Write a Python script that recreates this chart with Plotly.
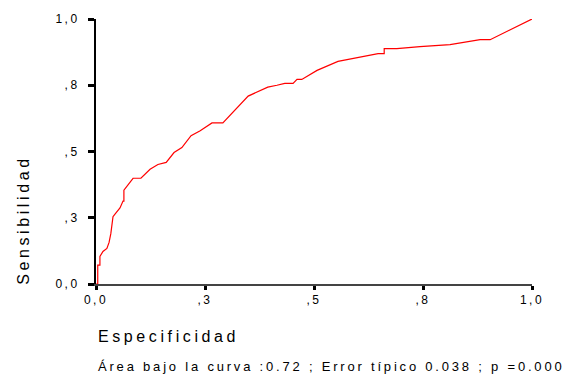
import plotly.graph_objects as go

# ROC curve points (1 - specificity on x as labelled "Especificidad", sensitivity on y)
fpr = [0.0, 0.004, 0.004, 0.009, 0.009, 0.016, 0.025, 0.030, 0.034, 0.037, 0.039, 0.044,
       0.055, 0.062, 0.064, 0.064, 0.085, 0.103, 0.124, 0.142, 0.161, 0.179, 0.197, 0.218,
       0.239, 0.266, 0.291, 0.349, 0.394, 0.415, 0.433, 0.452, 0.461, 0.472, 0.507, 0.555,
       0.647, 0.661, 0.661, 0.690, 0.743, 0.812, 0.881, 0.904, 1.0]
tpr = [0.0, 0.0, 0.071, 0.071, 0.104, 0.123, 0.134, 0.157, 0.190, 0.220, 0.254, 0.265,
       0.287, 0.313, 0.313, 0.354, 0.399, 0.399, 0.433, 0.451, 0.459, 0.496, 0.515, 0.560,
       0.578, 0.608, 0.608, 0.709, 0.743, 0.750, 0.757, 0.757, 0.772, 0.772, 0.806, 0.840,
       0.869, 0.869, 0.888, 0.888, 0.896, 0.903, 0.922, 0.922, 1.0]

tick_vals = [0, 0.25, 0.5, 0.75, 1.0]
tick_text = ["0,0", ",3", ",5", ",8", "1,0"]

x_title = "Especificidad"
y_title = "Sensibilidad"
footnote = "Área bajo la curva :0.72 ; Error típico 0.038 ; p =0.000"

FONT = "Liberation Sans, Arial, sans-serif"

def spaced(t, px):
    return '<span style="letter-spacing:%spx">%s</span>' % (px, t)

fig = go.Figure()
fig.add_trace(go.Scatter(x=fpr, y=tpr, mode="lines",
                         line=dict(color="#ff0000", width=1.2),
                         hoverinfo="skip", showlegend=False))

fig.update_layout(
    width=568, height=379,
    margin=dict(l=96, r=36, t=14, b=95),
    paper_bgcolor="white", plot_bgcolor="white",
    font=dict(family=FONT, color="black", size=12),
    xaxis=dict(range=[0, 1], tickvals=tick_vals, ticktext=[spaced(t, 2.5) for t in tick_text],
               showgrid=False, zeroline=False, showline=True, linecolor="#444444",
               linewidth=1.5, ticks="outside", ticklen=4, tickwidth=3, tickcolor="black",
               tickfont=dict(size=12), fixedrange=True),
    yaxis=dict(range=[0, 1], tickvals=tick_vals, ticktext=[spaced(t, 2.5) for t in tick_text],
               showgrid=False, zeroline=False, showline=True, linecolor="black",
               linewidth=2, ticks="outside", ticklen=6, tickwidth=3, tickcolor="black",
               ticklabelstandoff=6,
               tickfont=dict(size=12), fixedrange=True),
    annotations=[
        dict(text=spaced(x_title, 3.6), xref="paper", yref="paper", x=0.0, y=-0.198,
             xanchor="left", yanchor="middle", showarrow=False, font=dict(size=16)),
        dict(text=spaced(y_title, 3.6), xref="paper", yref="paper", x=-0.167, y=0.239,
             xanchor="center", yanchor="middle", textangle=-90, showarrow=False,
             font=dict(size=16)),
        dict(text=spaced(footnote, 2.8), xref="paper", yref="paper", x=0.0, y=-0.31,
             xanchor="left", yanchor="middle", showarrow=False, font=dict(size=13)),
    ],
)

fig.write_html("out.html", config={"displayModeBar": False},
               post_script="document.body.style.margin='0';document.body.style.overflow='hidden';")
